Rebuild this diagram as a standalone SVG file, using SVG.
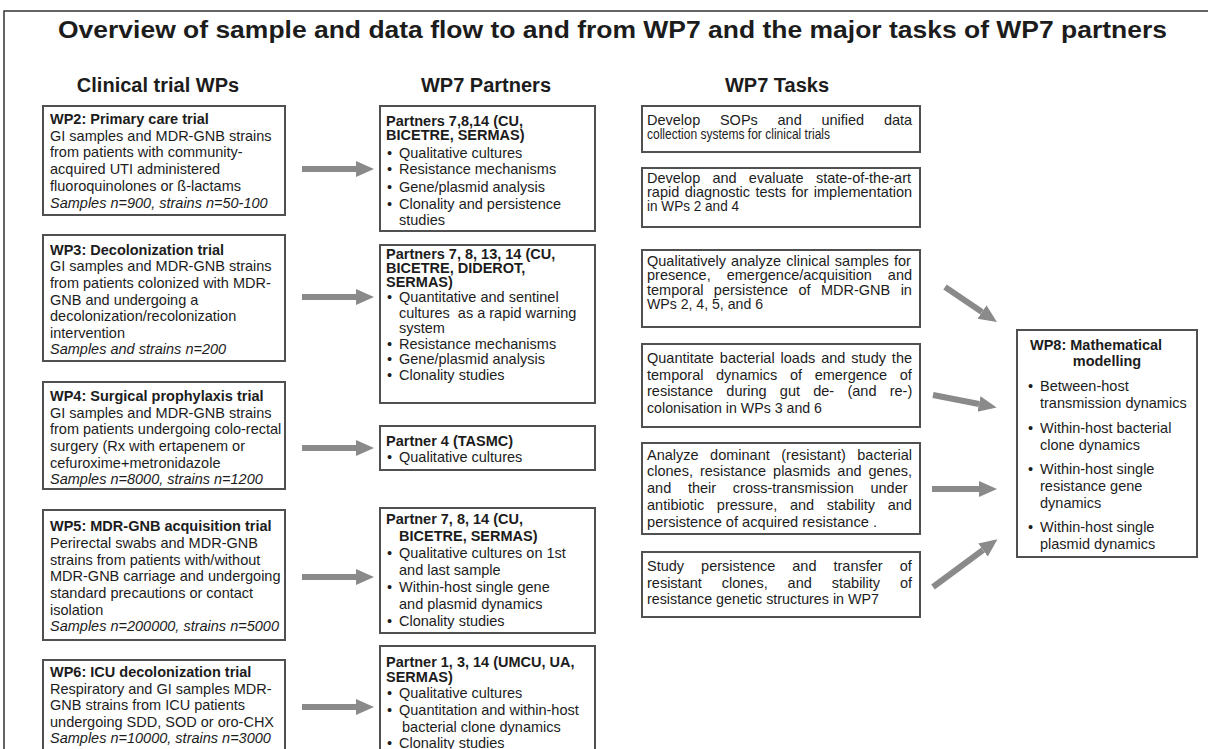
<svg xmlns="http://www.w3.org/2000/svg" width="1208" height="749" viewBox="0 0 1208 749">
<defs>
<style>
text{font-family:"Liberation Sans",Arial,sans-serif;fill:#1c1c1c;font-size:14.5px}
.b{font-weight:bold}
.i{font-style:italic}
.h{font-size:20px;font-weight:bold;text-anchor:middle}
.t{font-size:24px;font-weight:bold}
.box{fill:#fff;stroke:#505050;stroke-width:2}
.arr{stroke:#8a8a8a;stroke-width:6;fill:none}
.c{text-anchor:middle}
</style>
<marker id="ah" markerUnits="userSpaceOnUse" markerWidth="18" markerHeight="18" viewBox="0 0 18 18" refX="0" refY="9" orient="auto"><path d="M0,1 L18,9 L0,17 Z" fill="#8a8a8a"/></marker>
</defs>
<rect x="0" y="0" width="1208" height="749" fill="#fff"/>
<rect x="4" y="11" width="1214" height="760" fill="none" stroke="#333" stroke-width="1.5"/>
<text class="t" x="58" y="38" textLength="1109" lengthAdjust="spacingAndGlyphs">Overview of sample and data flow to and from WP7 and the major tasks of WP7 partners</text>
<text class="h" x="158" y="92">Clinical trial WPs</text>
<text class="h" x="486" y="92">WP7 Partners</text>
<text class="h" x="777" y="92">WP7 Tasks</text>

<g id="wp2"><rect class="box" x="43" y="106" width="242" height="109"/>
<text class="b" x="50" y="124">WP2: Primary care trial</text>
<text x="50" y="141">GI samples and MDR-GNB strains</text>
<text x="50" y="157">from patients with community-</text>
<text x="50" y="174">acquired UTI administered</text>
<text x="50" y="191">fluoroquinolones or ß-lactams</text>
<text class="i" x="50" y="208">Samples n=900, strains n=50-100</text></g>

<g id="wp3"><rect class="box" x="43" y="235" width="242" height="126"/>
<text class="b" x="50" y="255">WP3: Decolonization trial</text>
<text x="50" y="271">GI samples and MDR-GNB strains</text>
<text x="50" y="288">from patients colonized with MDR-</text>
<text x="50" y="305">GNB and undergoing a</text>
<text x="50" y="321">decolonization/recolonization</text>
<text x="50" y="338">intervention</text>
<text class="i" x="50" y="354">Samples and strains n=200</text></g>

<g id="wp4"><rect class="box" x="43" y="382" width="242" height="107"/>
<text class="b" x="50" y="401">WP4: Surgical prophylaxis trial</text>
<text x="50" y="418">GI samples and MDR-GNB strains</text>
<text x="50" y="434">from patients undergoing colo-rectal</text>
<text x="50" y="451">surgery (Rx with ertapenem or</text>
<text x="50" y="468">cefuroxime+metronidazole</text>
<text class="i" x="50" y="484">Samples n=8000, strains n=1200</text></g>

<g id="wp5"><rect class="box" x="43" y="510" width="242" height="130"/>
<text class="b" x="50" y="531">WP5: MDR-GNB acquisition trial</text>
<text x="50" y="548">Perirectal swabs and MDR-GNB</text>
<text x="50" y="565">strains from patients with/without</text>
<text x="50" y="581">MDR-GNB carriage and undergoing</text>
<text x="50" y="598">standard precautions or contact</text>
<text x="50" y="615">isolation</text>
<text class="i" x="50" y="631">Samples n=200000, strains n=5000</text></g>

<g id="wp6"><rect class="box" x="43" y="660" width="242" height="110"/>
<text class="b" x="50" y="677">WP6: ICU decolonization trial</text>
<text x="50" y="694">Respiratory and GI samples MDR-</text>
<text x="50" y="710">GNB strains from ICU patients</text>
<text x="50" y="727">undergoing SDD, SOD or oro-CHX</text>
<text class="i" x="50" y="743">Samples n=10000, strains n=3000</text></g>

<g id="p1"><rect class="box" x="380" y="106" width="215" height="125"/>
<text class="b" x="386" y="126">Partners 7,8,14 (CU,</text>
<text class="b" x="386" y="140">BICETRE, SERMAS)</text>
<text x="387" y="158">•</text><text x="399" y="158">Qualitative cultures</text>
<text x="387" y="174">•</text><text x="399" y="174">Resistance mechanisms</text>
<text x="387" y="192">•</text><text x="399" y="192">Gene/plasmid analysis</text>
<text x="387" y="209">•</text><text x="399" y="209">Clonality and persistence</text>
<text x="399" y="225">studies</text></g>

<g id="p2"><rect class="box" x="380" y="245" width="215" height="158"/>
<text class="b" x="386" y="259">Partners 7, 8, 13, 14 (CU,</text>
<text class="b" x="386" y="273">BICETRE, DIDEROT,</text>
<text class="b" x="386" y="287">SERMAS)</text>
<text x="387" y="302">•</text><text x="399" y="302">Quantitative and sentinel</text>
<text x="399" y="318" xml:space="preserve">cultures  as a rapid warning</text>
<text x="399" y="333">system</text>
<text x="387" y="349">•</text><text x="399" y="349">Resistance mechanisms</text>
<text x="387" y="364">•</text><text x="399" y="364">Gene/plasmid analysis</text>
<text x="387" y="380">•</text><text x="399" y="380">Clonality studies</text></g>

<g id="p3"><rect class="box" x="380" y="426" width="215" height="44"/>
<text class="b" x="386" y="446">Partner 4 (TASMC)</text>
<text x="387" y="462">•</text><text x="399" y="462">Qualitative cultures</text></g>

<g id="p4"><rect class="box" x="380" y="508" width="215" height="125"/>
<text class="b" x="386" y="524">Partner 7, 8, 14 (CU,</text>
<text class="b" x="399" y="541">BICETRE, SERMAS)</text>
<text x="387" y="558">•</text><text x="399" y="558">Qualitative cultures on 1st</text>
<text x="399" y="575">and last sample</text>
<text x="387" y="592">•</text><text x="399" y="592">Within-host single gene</text>
<text x="399" y="609">and plasmid dynamics</text>
<text x="387" y="626">•</text><text x="399" y="626">Clonality studies</text></g>

<g id="p5"><rect class="box" x="380" y="646" width="215" height="120"/>
<text class="b" x="386" y="667">Partner 1, 3, 14 (UMCU, UA,</text>
<text class="b" x="386" y="682">SERMAS)</text>
<text x="387" y="698">•</text><text x="399" y="698">Qualitative cultures</text>
<text x="387" y="715">•</text><text x="399" y="715">Quantitation and within-host</text>
<text x="402" y="732">bacterial clone dynamics</text>
<text x="387" y="748">•</text><text x="399" y="748">Clonality studies</text></g>

<g id="t1"><rect class="box" x="642" y="106" width="278" height="46"/>
<text x="647" y="125" word-spacing="15.7">Develop SOPs and unified data</text>
<text x="647" y="139" textLength="183" lengthAdjust="spacingAndGlyphs">collection systems for clinical trials</text></g>

<g id="t2"><rect class="box" x="642" y="168" width="278" height="59"/>
<text x="647" y="183" word-spacing="8.2">Develop and evaluate state-of-the-art</text>
<text x="647" y="197" word-spacing="1.4">rapid diagnostic tests for implementation</text>
<text x="647" y="211" textLength="92" lengthAdjust="spacingAndGlyphs">in WPs 2 and 4</text></g>

<g id="t3"><rect class="box" x="642" y="250" width="278" height="77"/>
<text x="647" y="266" word-spacing="1.1">Qualitatively analyze clinical samples for</text>
<text x="647" y="280" word-spacing="12">presence, emergence/acquisition and</text>
<text x="647" y="295" word-spacing="6.4">temporal persistence of MDR-GNB in</text>
<text x="647" y="309" textLength="116" lengthAdjust="spacingAndGlyphs">WPs 2, 4, 5, and 6</text></g>

<g id="t4"><rect class="box" x="642" y="344" width="278" height="83"/>
<text x="647" y="363" word-spacing="1.9">Quantitate bacterial loads and study the</text>
<text x="647" y="380" word-spacing="8.6">temporal dynamics of emergence of</text>
<text x="647" y="396" word-spacing="9.2">resistance during gut de- (and re-)</text>
<text x="647" y="413" textLength="175" lengthAdjust="spacingAndGlyphs">colonisation in WPs 3 and 6</text></g>

<g id="t5"><rect class="box" x="642" y="443" width="278" height="91"/>
<text x="647" y="460" word-spacing="7.5">Analyze dominant (resistant) bacterial</text>
<text x="647" y="476" word-spacing="3">clones, resistance plasmids and genes,</text>
<text x="647" y="493" word-spacing="12.7">and their cross-transmission under</text>
<text x="647" y="510" word-spacing="8.6">antibiotic pressure, and stability and</text>
<text x="647" y="527" textLength="230" lengthAdjust="spacingAndGlyphs">persistence of acquired resistance .</text></g>

<g id="t6"><rect class="box" x="642" y="552" width="278" height="65"/>
<text x="647" y="571" word-spacing="13">Study persistence and transfer of</text>
<text x="647" y="588" word-spacing="15.9">resistant clones, and stability of</text>
<text x="647" y="604" textLength="232" lengthAdjust="spacingAndGlyphs">resistance genetic structures in WP7</text></g>

<g id="wp8"><rect class="box" x="1017" y="330" width="180" height="227"/>
<text class="b" x="1030" y="350">WP8: Mathematical</text>
<text class="b c" x="1107" y="366">modelling</text>
<text x="1028" y="391">•</text><text x="1040" y="391">Between-host</text>
<text x="1040" y="408">transmission dynamics</text>
<text x="1028" y="433">•</text><text x="1040" y="433">Within-host bacterial</text>
<text x="1040" y="450">clone dynamics</text>
<text x="1028" y="474">•</text><text x="1040" y="474">Within-host single</text>
<text x="1040" y="491">resistance gene</text>
<text x="1040" y="508">dynamics</text>
<text x="1028" y="532">•</text><text x="1040" y="532">Within-host single</text>
<text x="1040" y="549">plasmid dynamics</text></g>

<g id="connectors">
<line class="arr" x1="302" y1="169" x2="356" y2="169" marker-end="url(#ah)"/>
<line class="arr" x1="302" y1="297" x2="356" y2="297" marker-end="url(#ah)"/>
<line class="arr" x1="302" y1="448" x2="356" y2="448" marker-end="url(#ah)"/>
<line class="arr" x1="302" y1="577" x2="356" y2="577" marker-end="url(#ah)"/>
<line class="arr" x1="302" y1="707" x2="356" y2="707" marker-end="url(#ah)"/>
<line class="arr" x1="945" y1="287" x2="982" y2="312" marker-end="url(#ah)"/>
<line class="arr" x1="933" y1="395" x2="979" y2="404" marker-end="url(#ah)"/>
<line class="arr" x1="932" y1="489" x2="979" y2="489" marker-end="url(#ah)"/>
<line class="arr" x1="933" y1="587" x2="983" y2="550" marker-end="url(#ah)"/>
</g>
</svg>
